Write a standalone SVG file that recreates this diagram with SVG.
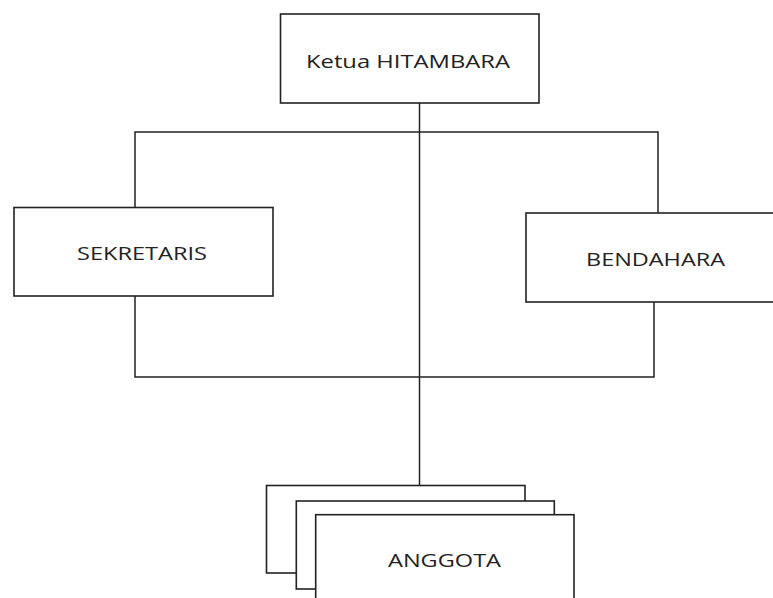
<svg xmlns="http://www.w3.org/2000/svg" width="773" height="598" viewBox="0 0 773 598">
<style>
.box{fill:#fff;stroke:#222;stroke-width:1.6}
.ln{fill:none;stroke:#222;stroke-width:1.5}
.lb{font-family:"Open Sans","Liberation Sans",sans-serif;font-size:19px;fill:#222;text-anchor:middle}
</style>
<rect width="773" height="598" fill="#fff"/>
<g id="connectors">
<polyline class="ln" points="135,207 135,132 658,132 658,213"/>
<polyline class="ln" points="135,296 135,377 654,377 654,302"/>
<line class="ln" x1="419.5" y1="103" x2="419.5" y2="485"/>
</g>
<g id="ketua">
<rect class="box" x="280.5" y="14" width="258.5" height="89"/>
<text class="lb" x="408" y="68" textLength="204" lengthAdjust="spacingAndGlyphs">Ketua HITAMBARA</text>
</g>
<g id="sekretaris">
<rect class="box" x="14" y="207.5" width="259" height="88.5"/>
<text class="lb" x="142" y="260" textLength="130" lengthAdjust="spacingAndGlyphs">SEKRETARIS</text>
</g>
<g id="bendahara">
<rect class="box" x="526" y="213" width="252" height="89"/>
<text class="lb" x="655.5" y="265.5" textLength="139" lengthAdjust="spacingAndGlyphs">BENDAHARA</text>
</g>
<g id="anggota">
<rect class="box" x="266.5" y="485.5" width="258.5" height="87.5"/>
<rect class="box" x="296.3" y="501" width="258" height="88"/>
<rect class="box" x="315.7" y="514.7" width="258.3" height="95"/>
<text class="lb" x="444.5" y="567" textLength="113" lengthAdjust="spacingAndGlyphs">ANGGOTA</text>
</g>
</svg>
